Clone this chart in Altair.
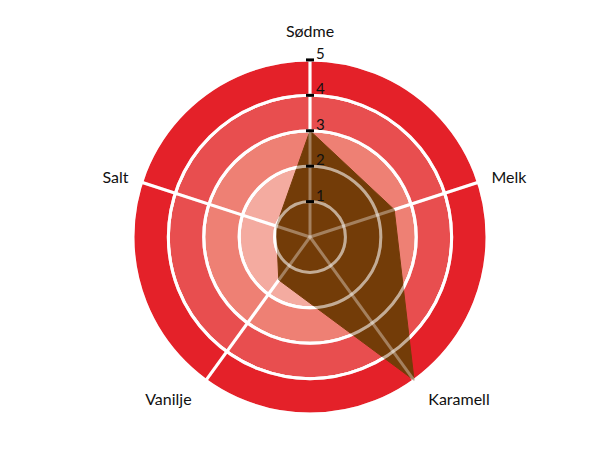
import math
import altair as alt
import pandas as pd

# ---- data ----
categories = ["Sødme", "Melk", "Karamell", "Vanilje", "Salt"]
values = [3, 2.5, 5, 1.5, 1]
tick_values = [1, 2, 3, 4, 5]
tick_labels = ["1", "2", "3", "4", "5"]
ring_inner = [0, 1, 2, 3, 4]
ring_outer = [1, 2, 3, 4, 5]
ring_names = ["r1", "r2", "r3", "r4", "r5"]
ring_colors = ["#f7c4bc", "#f4aba0", "#ee8074", "#e84e4f", "#e42129"]

R_MAX = 5
EXT = 6.0
S = 425
FONT = "Lato"

n = len(categories)
axes_df = pd.DataFrame({"cat": categories, "idx": list(range(n)), "value": values})
poly_df = pd.concat([axes_df, axes_df.iloc[[0]].assign(idx=n)], ignore_index=True)
rings_df = pd.DataFrame({"ring": ring_names, "inner": ring_inner, "outer": ring_outer})
ticks_df = pd.DataFrame({"v": tick_values, "lab": tick_labels})

xs = alt.Scale(domain=[-EXT, EXT], nice=False, zero=False)
ys = alt.Scale(domain=[-EXT, EXT], nice=False, zero=False)
rs = alt.Scale(type="linear", domain=[0, EXT], range=[0, S / 2], zero=True, nice=False)

ang = f"datum.idx * 2 * PI / {n}"

rings = alt.Chart(rings_df).mark_arc(
    theta=0, theta2=2 * math.pi, stroke="white", strokeWidth=3
).encode(
    radius=alt.Radius("outer:Q", scale=rs),
    radius2="inner:Q",
    color=alt.Color("ring:N", scale=alt.Scale(domain=ring_names, range=ring_colors), legend=None),
)

rings_over = alt.Chart(rings_df).mark_arc(
    theta=0, theta2=2 * math.pi, fill="white", fillOpacity=0,
    stroke="white", strokeWidth=3, strokeOpacity=0.35
).encode(
    radius=alt.Radius("outer:Q", scale=rs),
    radius2="inner:Q",
)

spoke_base = alt.Chart(axes_df).transform_calculate(
    ang=ang
).transform_calculate(
    x0="0", y0="0",
    xe=f"{R_MAX} * sin(datum.ang)", ye=f"{R_MAX} * cos(datum.ang)",
)
spokes = spoke_base.mark_rule(color="white", strokeWidth=3).encode(
    x=alt.X("x0:Q", scale=xs, axis=None),
    y=alt.Y("y0:Q", scale=ys, axis=None),
    x2="xe:Q", y2="ye:Q",
)
spokes_over = spoke_base.mark_rule(color="white", strokeWidth=3, opacity=0.35).encode(
    x=alt.X("x0:Q", scale=xs, axis=None),
    y=alt.Y("y0:Q", scale=ys, axis=None),
    x2="xe:Q", y2="ye:Q",
)

poly = alt.Chart(poly_df).transform_calculate(
    ang=ang
).transform_calculate(
    px="datum.value * sin(datum.ang)", py="datum.value * cos(datum.ang)"
).mark_line(fill="#733c08", stroke="#733c08", strokeWidth=1, interpolate="linear-closed").encode(
    x=alt.X("px:Q", scale=xs, axis=None),
    y=alt.Y("py:Q", scale=ys, axis=None),
    order="idx:Q",
)

ticks = alt.Chart(ticks_df).transform_calculate(z="0").mark_tick(
    orient="horizontal", size=8, thickness=3, color="#000000", opacity=1
).encode(
    x=alt.X("z:Q", scale=xs, axis=None),
    y=alt.Y("v:Q", scale=ys, axis=None),
)
tick_text = alt.Chart(ticks_df).transform_calculate(z="0").mark_text(
    align="left", baseline="alphabetic", dx=6, dy=-1, fontSize=15, font=FONT, color="#111111"
).encode(
    x=alt.X("z:Q", scale=xs, axis=None),
    y=alt.Y("v:Q", scale=ys, axis=None),
    text="lab:N",
)

lab_base = alt.Chart(axes_df).transform_calculate(
    ang=ang
).transform_calculate(
    rl="5.2 + 0.6 * abs(cos(datum.ang))"
).transform_calculate(
    lx="datum.rl * sin(datum.ang)", ly="datum.rl * cos(datum.ang)"
)


def lab_layer(cond, align):
    return lab_base.transform_filter(cond).mark_text(
        align=align, baseline="middle", fontSize=16, font=FONT, color="#111111"
    ).encode(
        x=alt.X("lx:Q", scale=xs, axis=None),
        y=alt.Y("ly:Q", scale=ys, axis=None),
        text="cat:N",
    )


labels_c = lab_layer("abs(datum.lx) < 0.3", "center")
labels_l = lab_layer("datum.lx >= 0.3", "left")
labels_r = lab_layer("datum.lx <= -0.3", "right")

chart = alt.layer(
    rings, spokes, poly, rings_over, spokes_over, ticks, tick_text, labels_c, labels_l, labels_r
).properties(
    width=S, height=S,
    autosize=alt.AutoSizeParams(type="none"),
    padding={"left": 89.5, "top": 16.5, "right": 10, "bottom": 10},
).configure_view(stroke=None)

chart.save("out.html", embed_options={"renderer": "svg", "actions": False})
